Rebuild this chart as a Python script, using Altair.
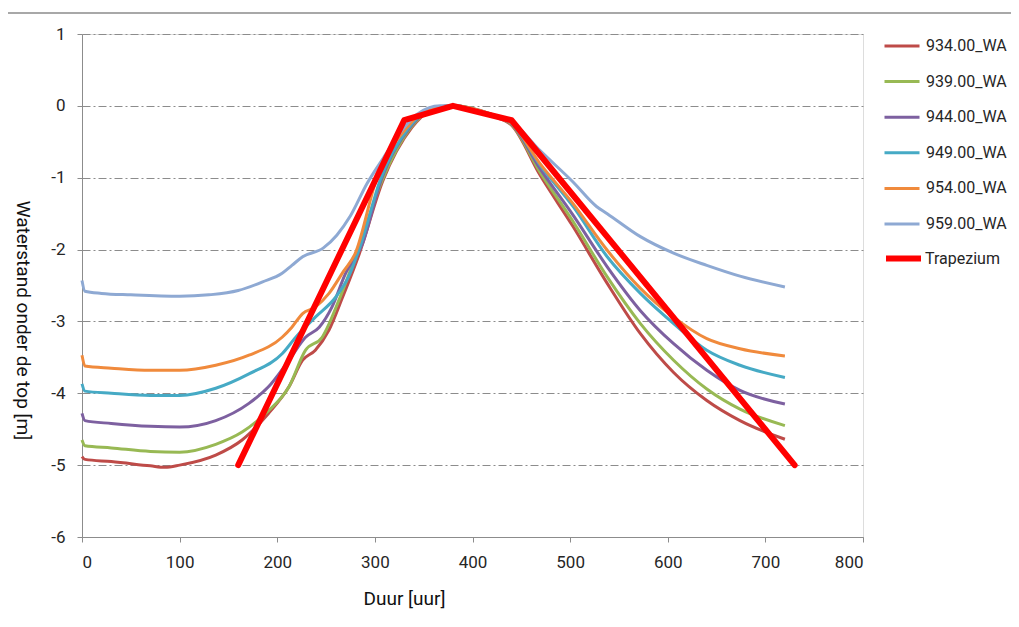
import altair as alt
import pandas as pd

# ---- data ----
series_names = ["934.00_WA", "939.00_WA", "944.00_WA", "949.00_WA", "954.00_WA", "959.00_WA"]
series_colors = ["#BE4B48", "#98B954", "#7D60A0", "#46AAC5", "#F08A3C", "#8EA9D3"]

t_934 = [0, 3, 30, 70, 85, 100, 137, 164, 191, 212, 226, 239, 253, 267, 284, 308, 338, 355, 380, 420, 440, 469, 503, 538, 572, 606, 640, 674, 720]
v_934 = [-4.88, -4.92, -4.95, -5.01, -5.03, -5.0, -4.86, -4.65, -4.28, -3.91, -3.54, -3.4, -3.12, -2.66, -2.06, -1.05, -0.3, -0.08, 0.0, -0.14, -0.27, -0.96, -1.68, -2.47, -3.17, -3.71, -4.10, -4.38, -4.64]

t_939 = [0, 3, 30, 70, 100, 137, 164, 188, 212, 229, 246, 263, 280, 307, 337, 354, 380, 420, 440, 469, 503, 538, 572, 606, 640, 674, 720]
v_939 = [-4.65, -4.73, -4.76, -4.81, -4.82, -4.71, -4.54, -4.28, -3.91, -3.4, -3.22, -2.71, -2.1, -1.05, -0.3, -0.08, 0.0, -0.13, -0.26, -0.92, -1.61, -2.38, -3.03, -3.54, -3.94, -4.22, -4.45]

t_944 = [0, 3, 30, 70, 100, 137, 171, 191, 212, 229, 243, 256, 270, 287, 306, 336, 353, 380, 420, 440, 469, 503, 538, 572, 606, 640, 674, 720]
v_944 = [-4.28, -4.38, -4.42, -4.46, -4.47, -4.38, -4.14, -3.91, -3.54, -3.22, -3.08, -2.8, -2.33, -1.93, -1.05, -0.3, -0.08, 0.0, -0.13, -0.25, -0.87, -1.52, -2.24, -2.85, -3.31, -3.68, -3.96, -4.15]

t_949 = [0, 3, 30, 70, 100, 137, 171, 205, 219, 239, 260, 273, 287, 305, 335, 352, 380, 420, 440, 469, 503, 538, 572, 606, 640, 674, 720]
v_949 = [-3.87, -3.97, -4.0, -4.03, -4.03, -3.93, -3.73, -3.45, -3.22, -2.94, -2.66, -2.38, -1.87, -1.05, -0.3, -0.08, 0.0, -0.12, -0.24, -0.82, -1.40, -2.10, -2.61, -3.03, -3.40, -3.61, -3.78]

t_954 = [0, 3, 30, 70, 100, 137, 171, 205, 215, 226, 239, 253, 268, 280, 302, 333, 350, 380, 420, 440, 469, 503, 538, 572, 606, 640, 674, 720]
v_954 = [-3.47, -3.62, -3.65, -3.68, -3.68, -3.61, -3.47, -3.22, -3.08, -2.89, -2.8, -2.61, -2.3, -2.05, -1.0, -0.3, -0.08, 0.0, -0.12, -0.24, -0.8, -1.36, -2.01, -2.54, -2.94, -3.24, -3.38, -3.48]

t_959 = [0, 3, 20, 50, 100, 130, 160, 185, 205, 215, 226, 247, 261, 275, 292, 309, 330, 343, 367, 380, 400, 420, 440, 469, 503, 527, 538, 572, 606, 640, 674, 720]
v_959 = [-2.43, -2.58, -2.61, -2.63, -2.65, -2.63, -2.57, -2.45, -2.33, -2.22, -2.1, -1.98, -1.8, -1.53, -1.08, -0.72, -0.3, -0.12, 0.0, 0.0, -0.05, -0.12, -0.22, -0.62, -1.06, -1.40, -1.5, -1.82, -2.05, -2.22, -2.37, -2.52]

trap_t = [160, 330, 380, 440, 730]
trap_v = [-5.0, -0.2, 0.0, -0.2, -5.0]

x_ticks = [0, 100, 200, 300, 400, 500, 600, 700, 800]
y_ticks = [1, 0, -1, -2, -3, -4, -5, -6]

# ---- build tables ----
rows = []
for name, ts, vs in zip(series_names,
                        [t_934, t_939, t_944, t_949, t_954, t_959],
                        [v_934, v_939, v_944, v_949, v_954, v_959]):
    for i, (t, v) in enumerate(zip(ts, vs)):
        rows.append({"serie": name, "duur": t, "waarde": v, "ord": i})
df = pd.DataFrame(rows)
trap = pd.DataFrame({"serie": "Trapezium", "duur": trap_t, "waarde": trap_v, "ord": list(range(len(trap_t)))})

FONT = "Roboto"
GRID = "#8C8C8C"
TXT = "#262626"

xs = alt.Scale(domain=[0, 800], nice=False, zero=False)
ys = alt.Scale(domain=[-6, 1], nice=False, zero=False)

x_enc = alt.X("duur:Q", scale=xs,
              axis=alt.Axis(values=x_ticks, title="Duur [uur]", grid=False,
                            labelExpr="'' + datum.value",
                            titleX=322, titleY=52, titleAlign="center",
                            titleFontSize=19, titleFontWeight="normal",
                            labelFontSize=17, labelPadding=12, tickSize=5,
                            domainColor=GRID, tickColor=GRID, labelColor=TXT,
                            titleColor="#111111", labelFont=FONT, titleFont=FONT))
y_enc = alt.Y("waarde:Q", scale=ys,
              axis=alt.Axis(values=y_ticks, title="Waterstand onder de top [m]",
                            labelExpr="'' + datum.value",
                            titleAngle=90, titleX=-60, titleY=286, titleAlign="center",
                            titleBaseline="middle",
                            titleFontSize=19, titleFontWeight="normal",
                            labelFontSize=17, labelPadding=12, tickSize=5,
                            grid=True, gridColor=GRID, gridDash=[8, 3, 2, 3], gridWidth=1,
                            domainColor=GRID, tickColor=GRID, labelColor=TXT,
                            titleColor="#111111", labelFont=FONT, titleFont=FONT))

lines = alt.Chart(df).mark_line(strokeWidth=3, interpolate="monotone").encode(
    x=x_enc, y=y_enc, order="ord:Q",
    color=alt.Color("serie:N",
                    scale=alt.Scale(domain=series_names, range=series_colors),
                    legend=alt.Legend(title=None, orient="none", legendX=801, legendY=-7,
                                      symbolType="stroke", symbolStrokeWidth=3,
                                      symbolSize=1225, rowPadding=8.6, labelOffset=5,
                                      labelFontSize=16, labelFont=FONT, labelColor=TXT)),
)

trap_line = alt.Chart(trap).mark_line(strokeWidth=6, strokeCap="round", strokeJoin="round").encode(
    x=alt.X("duur:Q", scale=xs), y=alt.Y("waarde:Q", scale=ys), order="ord:Q",
    color=alt.Color("serie:N",
                    scale=alt.Scale(domain=["Trapezium"], range=["#FF0000"]),
                    legend=alt.Legend(title=None, orient="none", legendX=801, legendY=204,
                                      symbolType="stroke", symbolStrokeWidth=6,
                                      symbolSize=1225, labelOffset=1,
                                      labelFontSize=16, labelFont=FONT, labelColor=TXT)),
)

frame = alt.Chart(pd.DataFrame({"a": [0]})).mark_rect(
    fill=None, stroke="#8C8C8C", strokeWidth=1.3
).encode(x=alt.value(-76), x2=alt.value(980), y=alt.value(-21), y2=alt.value(620))

chart = alt.layer(frame, lines, trap_line).resolve_scale(color="independent").properties(
    width=781, height=503,
    padding={"left": 74, "top": 26, "right": 148, "bottom": 82},
    autosize=alt.AutoSizeParams(type="none"),
).configure_view(stroke=GRID, strokeWidth=1).configure(background="white")

chart.save("out.html", embed_options={"renderer": "svg", "actions": False})
